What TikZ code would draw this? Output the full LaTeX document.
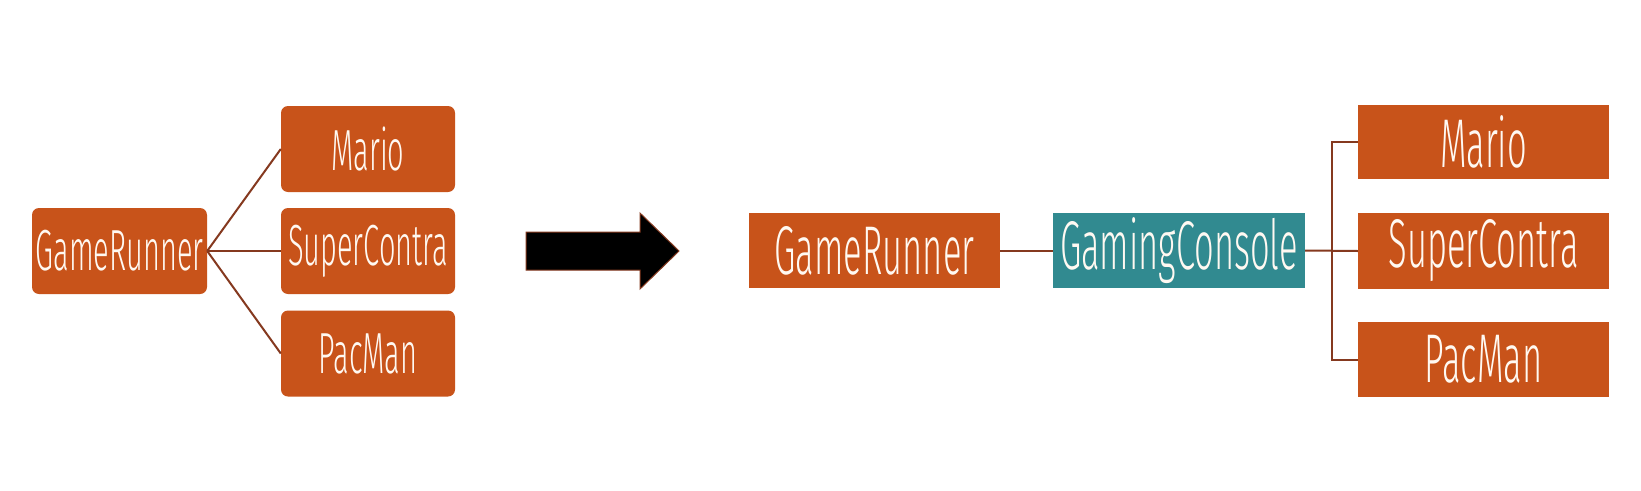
\documentclass[tikz,border=0pt]{standalone}
\usepackage{fontspec}
\newfontfamily\boxfontL[FakeStretch=0.5]{Fira Sans Light}
\newfontfamily\boxfontR[FakeStretch=0.5]{Fira Sans Light}
\definecolor{boxorange}{HTML}{C8531A}
\definecolor{boxteal}{HTML}{318A90}
\definecolor{linkbrown}{HTML}{85391F}
\definecolor{txtwhite}{HTML}{FFF9F2}
\tikzset{
  lbox/.style={fill=boxorange, rounded corners=7pt, inner sep=0pt, text=txtwhite,
    font=\boxfontL\fontsize{58}{60}\selectfont},
  rbox/.style={fill=boxorange, inner sep=0pt, text=txtwhite,
    font=\boxfontR\fontsize{69}{70}\selectfont},
  tbox/.style={rbox, fill=boxteal},
  link/.style={draw=linkbrown, line width=2pt},
  bigarrow/.style={fill=black, draw=linkbrown, line width=1pt, line join=miter}
}
\begin{document}
\begin{tikzpicture}[x=1pt,y=-1pt]
\useasboundingbox (0,0) rectangle (1641,490);
\fill[white] (0,0) rectangle (1641,490);
% left group
\node[lbox, minimum width=175pt, minimum height=86pt] (lgr) at (119.5,251) {GameRunner};
\node[lbox, minimum width=174pt, minimum height=86pt] (lmario) at (368,149) {Mario};
\node[lbox, minimum width=174pt, minimum height=86pt] (lsc) at (368,251) {SuperContra};
\node[lbox, minimum width=174pt, minimum height=86pt] (lpac) at (368,353.5) {PacMan};
\draw[link] (lgr.east) -- (lmario.west);
\draw[link] (lgr.east) -- (lsc.west);
\draw[link] (lgr.east) -- (lpac.west);
% arrow
\coordinate (a0) at (526,232);
\draw[bigarrow] (a0) -- (640,232) -- (640,213) -- (679,251) -- (640,289) -- (640,270) -- (526,270) -- cycle;
% right group
\node[rbox, minimum width=251pt, minimum height=75pt] (rgr) at (874.5,250.5) {GameRunner};
\node[tbox, minimum width=252pt, minimum height=75pt] (gc) at (1179,250.5) {GamingConsole};
\node[rbox, minimum width=251pt, minimum height=74pt] (rmario) at (1483.5,142) {Mario};
\node[rbox, minimum width=251pt, minimum height=76pt] (rsc) at (1483.5,251) {SuperContra};
\node[rbox, minimum width=251pt, minimum height=75pt] (rpac) at (1483.5,359.5) {PacMan};
\draw[link] (rgr.east) -- (gc.west);
\draw[link] (gc.east) -- (rsc.west);
\draw[link] (rmario.west) -- ++(-26,0) |- (rpac.west);
\end{tikzpicture}
\end{document}
